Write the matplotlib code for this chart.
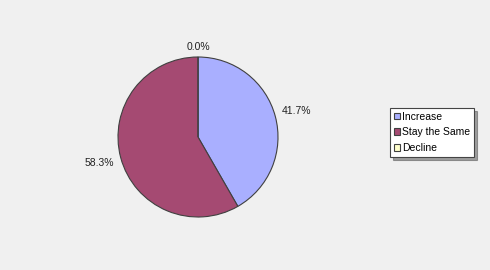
import matplotlib
matplotlib.use("Agg")
import matplotlib.pyplot as plt
import numpy as np

plt.rcParams["font.family"] = ["Liberation Sans", "DejaVu Sans"]

labels = ["Increase", "Stay the Same", "Decline"]
values = [41.7, 58.3, 0.0]
colors = ["#a9afff", "#a54a72", "#ffffcc"]

fig = plt.figure(figsize=(4.9, 2.7), dpi=100)
fig.patch.set_facecolor("#f0f0f0")

ax = fig.add_axes([118 / 490, 53 / 270, 160 / 490, 160 / 270])
ax.set_facecolor("#f0f0f0")

wedges, texts, autotexts = ax.pie(
    values,
    colors=colors,
    startangle=90,
    counterclock=False,
    autopct="%1.1f%%",
    pctdistance=1.28,
    wedgeprops=dict(edgecolor="#404040", linewidth=0.8),
    textprops=dict(fontsize=7.5, color="#222222"),
)
# pull the zero-size label a bit closer, as in the original
for w, t in zip(wedges, autotexts):
    if w.theta2 - w.theta1 < 1:
        x, y = t.get_position()
        t.set_position((x * 0.88, y * 0.88))
ax.set_xlim(-1, 1)
ax.set_ylim(-1, 1)
ax.set_aspect("equal")

leg = fig.legend(
    wedges, labels,
    loc="upper left",
    bbox_to_anchor=(390 / 490, 1 - 108 / 270),
    fontsize=7.5,
    frameon=True,
    fancybox=False,
    shadow=True,
    handlelength=0.6,
    handleheight=0.6,
    handletextpad=0.2,
    borderpad=0.35,
    labelspacing=0.55,
    borderaxespad=0,
)
leg.get_frame().set_edgecolor("#444444")
leg.get_frame().set_facecolor("white")
leg.get_frame().set_linewidth(0.8)

plt.savefig("out.png", dpi=100, facecolor=fig.get_facecolor())
